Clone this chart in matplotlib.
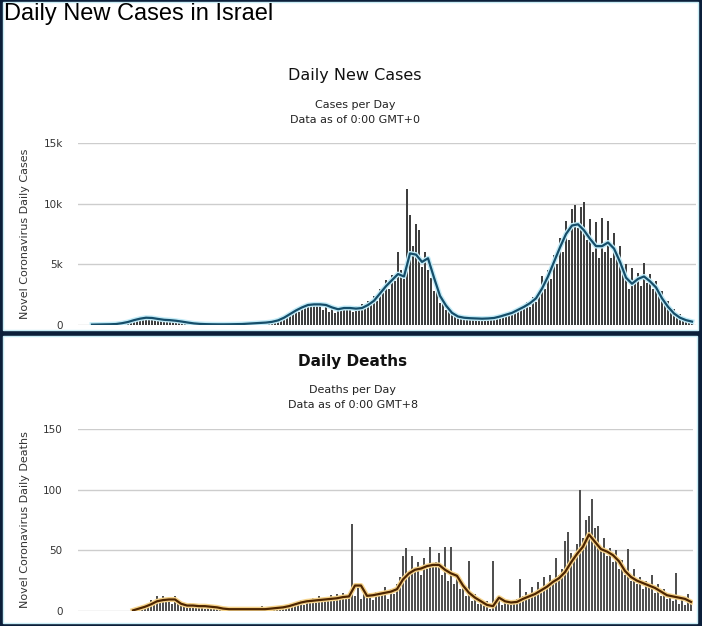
import numpy as np
import matplotlib
matplotlib.use("Agg")
import matplotlib.pyplot as plt
from matplotlib.patches import Rectangle

# --- data (one bar per ~2 days) ---
cases_bars = [
    0, 0, 5, 10, 10, 15, 20, 30, 40, 60, 80, 120, 200,
    300, 450, 500, 650, 700, 750, 600, 500, 700, 450, 550, 350, 500, 300, 450,
    250, 350, 200, 250, 150, 120, 80, 60,
    50, 40, 60, 30, 70, 40, 50, 60, 40, 70, 50, 80, 60, 90, 70, 110, 90,
    120, 150, 130, 180, 160, 200, 240, 220, 300, 420, 350, 650, 700, 1000, 900,
    1300, 1100, 1600, 1400, 1800, 1500, 1850, 1600, 1900, 1200, 1750, 1100,
    1600, 1000, 1450, 1200, 1550, 1250, 1500, 1100, 1600, 1200, 1700, 1400,
    2000, 1700, 2400, 2000, 3000, 2600, 3700, 3000, 4100, 3600, 6000, 4500, 3800,
    11200, 9100, 6500, 8300, 7800, 4800, 6000, 4500, 3900, 2800, 3100, 1800,
    2200, 1200, 1400, 800, 1000, 550, 700, 450, 650, 500, 650, 400, 600, 450,
    650, 500, 700, 450, 750, 650, 900, 750, 1100, 900, 1300, 1100, 1600, 1300,
    1900, 1500, 2300, 1900, 2800,
    4000, 3000, 4500, 3800, 5800, 5000, 7200, 6000, 8600, 7000, 9600, 9900,
    8000, 9700, 10100, 7000, 8700, 6000, 8500, 5500, 8800, 6000, 8600, 5500,
    7600, 6000, 6500, 4500, 5000, 3000, 4700, 3500, 4300, 3200, 5100, 3500,
    4200, 3000, 3600, 2400, 2800, 1700, 2000, 1100, 1300, 700, 900, 450, 550,
    300, 400,
]
# 7-day average, one point every second bar
cases_avg = [
    30, 40, 50, 60, 80, 150, 250, 400, 520, 600,
    580, 500, 430, 400, 350, 280, 200, 130, 90, 70,
    60, 55, 55, 60, 70, 80, 110, 140, 170, 200,
    260, 380, 600, 900, 1200, 1450, 1650, 1700, 1700, 1650,
    1450, 1300, 1400, 1400, 1350, 1400, 1650, 2000, 2600, 3200,
    3700, 4200, 4000, 5900, 5800, 5200, 5500, 3900, 2400, 1600,
    1000, 700, 600, 560, 540, 520, 540, 580, 700, 850,
    1000, 1250, 1500, 1800, 2200, 3000, 4000, 5200, 6400, 7500,
    8200, 8300, 7800, 7100, 6500, 6500, 6800, 6300, 5200, 3900,
    3400, 3800, 4000, 3600, 3100, 2200, 1500, 950, 600, 400,
    280,
]
cases_ticks = [0, 5000, 10000, 15000]
cases_ticklabels = ["0", "5k", "10k", "15k"]

deaths_bars = [
    0, 1, 2, 3, 2,
    5, 9, 6, 12, 7, 12, 8, 11, 6, 12, 8,
    4, 6, 3, 7, 5, 3, 6, 4, 2, 5, 3, 4, 2, 3, 2,
    1, 2, 1, 3, 1, 2, 2, 1, 3, 1, 2, 1, 4, 1, 2, 2, 1, 3, 2, 4,
    3, 5, 4, 7, 6, 9, 5, 10, 8, 11, 7, 12, 9, 11, 8, 13, 10, 14, 9, 15, 11, 13,
    72, 12, 22, 10, 14, 11, 15, 9, 16, 12, 13, 20, 10, 18, 14, 22, 28,
    45, 52, 30, 45, 35, 40, 30, 44, 35, 53, 38, 40, 48, 30, 53, 25, 53, 22, 28,
    18, 22, 12, 41, 8, 14, 6, 10, 4, 8, 2,
    41, 10, 12, 5, 10, 7, 9, 6, 10, 26, 12, 16, 10, 20, 13, 24, 15, 28, 18, 30,
    22, 44, 30, 35, 58, 65, 48, 45, 55,
    100, 60, 75, 78, 92, 68, 70, 50, 60, 45, 52, 40, 50, 35, 42, 30, 51, 25,
    35, 22, 28, 18, 25, 20, 30, 15, 22, 12, 18, 10, 14, 8, 31, 6, 12, 5, 14, 8,
]
deaths_avg = [
    0.5, 2, 3.5, 5.5, 8, 9, 9.5, 9.5, 6, 4.5,
    4.5, 4, 4, 3.5, 3, 2, 1.5, 1.5, 1.5, 1.5,
    1.5, 1.5, 1.5, 2, 2.5, 3, 4, 5.5, 7, 8,
    8.5, 9, 9.5, 10, 10.5, 11.5, 12, 21, 21, 12.5,
    13, 14, 15, 16, 18, 26, 31, 34, 35, 37,
    38, 38, 34, 31, 29, 21, 15, 11, 8, 5,
    4, 11, 8, 7, 7.5, 10, 12, 14, 17, 20,
    24, 27, 32, 40, 47, 53, 63, 57, 51, 49,
    46, 41, 33, 28, 25, 23, 21, 19, 16, 13,
    12, 11, 10, 7.5,
]
deaths_ticks = [0, 50, 100, 150]
deaths_ticklabels = ["0", "50", "100", "150"]

W, H = 702, 626
plt.rcParams["font.family"] = ["DejaVu Sans"]

fig = plt.figure(figsize=(W / 100, H / 100), dpi=100)
fig.patch.set_facecolor("#0b1f3a")


def px_rect(x0, y0, x1, y1, **kw):
    return Rectangle((x0 / W, 1 - y1 / H), (x1 - x0) / W, (y1 - y0) / H,
                     transform=fig.transFigure, **kw)


# panel backgrounds
fig.add_artist(px_rect(3, 2, 698, 330, facecolor="white", edgecolor="#c8ecf5", lw=1.0, zorder=0))
fig.add_artist(px_rect(3, 336, 697, 623, facecolor="white", edgecolor="#c8ecf5", lw=1.0, zorder=0))


def make_panel(rect, bars, avg, ticks, ticklabels, xlim, glow, line, barcol):
    ax = fig.add_axes(rect)
    ax.set_facecolor("none")
    x = np.arange(len(bars))
    xa = np.arange(len(avg)) * 2
    ax.bar(x, bars, width=0.45, color=barcol, linewidth=0, zorder=2)
    ax.plot(xa, avg, color=glow, lw=3.6, solid_joinstyle="round", zorder=3)
    ax.plot(xa, avg, color=line, lw=1.6, solid_joinstyle="round", zorder=4)
    ax.set_xlim(*xlim)
    ax.set_ylim(ticks[0], ticks[-1])
    ax.set_yticks(ticks)
    ax.set_yticklabels(ticklabels)
    ax.set_xticks([])
    ax.grid(axis="y", color="#cdcdcd", lw=1)
    ax.set_axisbelow(True)
    for s in ax.spines.values():
        s.set_visible(False)
    ax.tick_params(axis="y", length=0, pad=11, labelsize=7.5, labelcolor="#333333")
    return ax


# top: cases
make_panel([78 / W, 1 - 325 / H, 618 / W, 182 / H], cases_bars, cases_avg,
           cases_ticks, cases_ticklabels, (-4.67, 201.33), "#c2ebf7", "#154e6a", "#3f3f3f")
# bottom: deaths
make_panel([78 / W, 1 - 611 / H, 615 / W, 182 / H], deaths_bars, deaths_avg,
           deaths_ticks, deaths_ticklabels, (-18.33, 186.67), "#f6d48c", "#4e2600", "#505050")

# texts
fig.text(4 / W, 1 - 20 / H, "Daily New Cases in Israel", fontsize=17,
         family="Liberation Sans", color="black", va="baseline", ha="left")

fig.text(355 / W, 1 - 80 / H, "Daily New Cases", fontsize=11.5, ha="center", va="baseline", color="#111")
fig.text(355 / W, 1 - 108 / H, "Cases per Day", fontsize=8, ha="center", va="baseline", color="#222")
fig.text(355 / W, 1 - 123 / H, "Data as of 0:00 GMT+0", fontsize=8, ha="center", va="baseline", color="#222")
fig.text(25 / W, 1 - 234 / H, "Novel Coronavirus Daily Cases", fontsize=8, rotation=90,
         ha="center", va="center", color="#333")

fig.text(353 / W, 1 - 366 / H, "Daily Deaths", fontsize=11, fontweight="bold", ha="center", va="baseline", color="#111")
fig.text(353 / W, 1 - 393 / H, "Deaths per Day", fontsize=8, ha="center", va="baseline", color="#222")
fig.text(353 / W, 1 - 408 / H, "Data as of 0:00 GMT+8", fontsize=8, ha="center", va="baseline", color="#222")
fig.text(25 / W, 1 - 520 / H, "Novel Coronavirus Daily Deaths", fontsize=8, rotation=90,
         ha="center", va="center", color="#333")

plt.savefig("out.png", dpi=100, facecolor=fig.get_facecolor())
plt.close(fig)
